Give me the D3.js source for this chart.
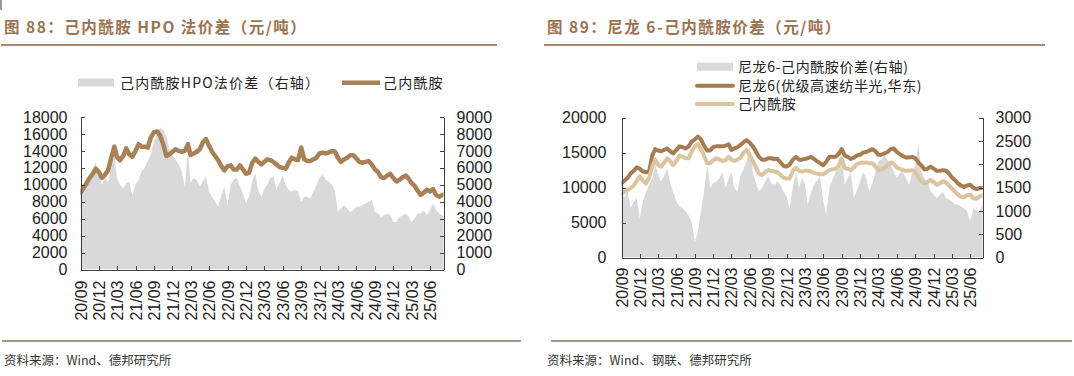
<!DOCTYPE html>
<html><head><meta charset="utf-8">
<script src="https://cdn.jsdelivr.net/npm/d3@7"></script>
<style>
html,body{margin:0;padding:0;background:#fff;}
svg{display:block;}
.ax text{font-family:"Liberation Sans Narrow","Liberation Sans",Arial,sans-serif;font-size:16px;fill:#222;}
.ax path,.ax line{stroke:#404040;stroke-width:1;shape-rendering:crispEdges;}
.lg{font-family:"Noto Sans CJK SC",sans-serif;font-size:14px;fill:#222;}
.tt{font-family:"Noto Sans CJK SC",sans-serif;font-size:15.5px;font-weight:bold;fill:#9c7352;letter-spacing:1.5px;}
.src{font-family:"Noto Sans CJK SC",sans-serif;font-size:12.5px;fill:#333;}
</style></head>
<body>
<svg id="c" width="1074" height="376"></svg>
<script>
// ---------- categories ----------
const startYear = 2020, startMonth = 9;           // semi-monthly observations from 2020-09
const xTickLabels = ["20/09","20/12","21/03","21/06","21/09","21/12","22/03","22/06","22/09","22/12",
  "23/03","23/06","23/09","23/12","24/03","24/06","24/09","24/12","25/03","25/06"];

// ---------- Fig 88 (left) ----------
// 己内酰胺 price (left axis, 元/吨, thousands)
const capLeft = [9.1,9.6,10.2,10.8,11.3,11.9,11.5,10.8,11.2,11.7,13.2,14.5,13.3,12.9,13.4,14.3,13.6,13.3,14.0,14.8,
  14.5,14.5,14.4,15.6,16.2,16.3,15.8,14.8,13.4,13.6,13.9,14.2,14.0,13.9,14.0,14.8,13.5,13.7,13.9,14.2,
  15.0,15.4,14.6,13.9,13.4,12.9,12.2,11.7,12.2,12.3,11.8,11.8,12.3,11.8,11.3,11.4,12.6,13.1,12.7,12.4,
  12.7,13.0,12.9,12.7,12.4,12.1,12.0,11.9,12.6,13.2,13.0,12.9,14.4,13.0,12.8,12.8,13.0,13.2,13.7,13.8,
  13.7,13.8,14.0,13.9,13.2,12.7,13.0,13.2,13.5,13.5,13.1,12.7,12.6,12.7,12.8,12.4,11.8,11.5,10.9,10.8,
  11.1,11.3,10.8,10.4,10.6,10.9,11.1,10.7,10.2,9.9,9.3,8.8,9.1,9.4,9.2,9.5,8.8,8.6,8.8,8.9];
// 己内酰胺HPO法价差 (right axis, thousands)
const hpoSpread = [4.6,5.0,5.3,5.6,5.9,6.3,5.6,5.0,5.4,5.2,6.0,6.7,5.4,5.0,4.8,5.1,5.2,4.4,5.0,5.3,
  5.8,6.0,6.4,6.8,7.6,8.0,8.4,8.2,7.9,7.1,6.7,6.5,6.2,5.8,4.9,7.1,5.1,5.4,5.3,4.9,
  5.2,5.5,4.6,4.3,4.0,3.7,4.4,4.9,3.8,5.0,5.3,5.4,4.9,4.5,3.9,4.3,5.2,5.7,4.6,4.3,
  4.7,5.0,5.4,5.5,4.7,5.1,5.5,5.0,4.7,4.6,4.7,4.6,4.0,4.3,4.3,4.2,4.6,5.0,5.4,5.6,
  5.3,5.2,5.0,4.6,3.4,3.6,3.8,3.6,3.4,3.5,3.7,3.7,3.8,3.9,4.0,4.1,3.4,3.3,3.1,3.2,
  3.3,3.2,2.8,2.8,3.1,3.2,3.3,3.1,2.8,3.0,3.3,3.3,3.5,3.2,3.5,3.9,3.5,3.3,3.2,3.0];

// ---------- Fig 89 (right) ----------
const nylon6 = [10.6,11.0,11.4,12.0,12.4,12.9,12.7,12.3,12.2,12.3,14.6,15.5,15.3,15.2,15.4,15.6,15.2,14.9,15.4,15.9,
  15.8,15.6,15.9,16.6,16.9,17.3,16.9,16.0,15.3,15.3,15.8,15.9,15.9,15.9,16.0,16.2,15.4,15.6,15.8,16.1,
  16.5,16.8,16.4,15.9,15.2,14.4,14.0,14.0,14.2,14.2,14.1,14.1,13.6,13.1,13.0,13.3,14.0,14.4,14.0,14.0,
  14.1,14.2,14.4,14.1,13.8,13.5,13.2,13.7,14.4,14.4,14.4,14.8,15.5,14.6,14.4,14.1,14.3,14.6,14.7,15.0,
  15.1,15.3,15.5,15.2,14.7,14.7,14.9,15.1,15.5,15.6,15.1,14.8,14.5,14.3,14.3,14.4,14.2,13.6,13.2,12.6,
  12.7,13.0,12.7,12.4,12.4,12.5,12.4,12.0,11.5,11.1,10.6,10.3,10.1,10.3,10.4,10.0,9.8,9.9,10.0,9.8];
const capRight = [9.1,9.4,9.65,9.9,10.3,11.0,11.6,11.0,10.6,11.4,13.0,14.0,13.3,13.0,13.5,14.2,13.8,13.2,13.8,14.6,
  14.4,14.2,14.2,15.2,15.9,16.2,15.5,14.6,13.5,13.5,13.9,14.2,14.0,13.8,13.9,14.4,14.0,13.8,14.0,14.3,
  15.0,15.4,14.6,13.8,12.9,12.0,11.8,12.2,12.5,12.4,12.3,12.2,11.8,11.4,11.3,11.3,12.4,12.8,12.4,12.3,
  12.4,12.4,12.3,12.1,12.0,11.9,11.9,12.2,12.5,12.6,12.7,13.1,14.2,12.8,12.7,12.5,12.9,13.4,13.5,13.6,
  13.6,13.5,13.5,13.0,12.5,12.6,12.8,13.2,13.6,13.4,12.9,12.7,12.5,12.4,12.4,12.5,12.2,11.5,10.9,10.6,
  10.8,11.1,10.8,10.4,10.6,10.9,10.7,10.3,9.9,9.4,9.0,8.7,8.6,8.9,9.0,8.5,8.4,8.7,8.9,8.7];
const nylonSpread = [1.35,1.30,1.41,1.06,1.20,1.27,0.84,1.20,1.41,1.55,1.70,1.99,1.80,1.63,1.75,1.92,1.60,1.40,1.20,1.10,
  1.06,0.99,0.90,0.77,0.34,0.55,1.00,1.41,1.99,1.49,1.60,1.63,1.70,1.84,1.49,1.70,1.84,1.50,1.41,1.77,
  1.90,2.06,2.40,1.84,1.60,1.41,1.50,1.63,1.74,1.60,1.56,1.63,1.55,1.41,1.30,1.06,1.50,1.84,1.49,1.70,
  1.60,1.13,1.40,1.56,1.65,1.74,1.20,0.91,1.49,1.65,1.84,1.90,2.20,1.56,1.70,1.84,1.27,1.45,1.63,1.84,
  1.70,1.41,1.60,1.84,2.06,2.10,2.20,2.10,1.99,1.85,1.70,1.80,1.84,1.70,1.56,1.80,1.99,2.45,1.84,1.70,
  1.63,1.41,1.35,1.27,1.35,1.41,1.27,1.25,1.20,1.15,1.13,1.10,1.05,1.00,0.77,1.06,1.00,0.99,1.13,1.05];

// ---------- build ----------
const dates = capLeft.map((_, i) => new Date(startYear, startMonth - 1 + Math.floor(i / 2), i % 2 ? 16 : 1));
const tickDates = xTickLabels.map(s => new Date(2000 + +s.slice(0, 2), +s.slice(3) - 1, 1));
const svg = d3.select("#c");
const C = { brown: "#a98157", nylon: "#a67c52", tan: "#dac59e", grey: "#d9d9d9" };

svg.append("rect").attr("x", 0).attr("y", 0).attr("width", 2).attr("height", 10).attr("fill", "#9a9a9a");

function frame(x0, x1, title, src, srcLineX0, srcLineX1) {
  svg.append("text").attr("class", "tt").attr("x", x0 + 4).attr("y", 33).text(title);
  svg.append("rect").attr("x", x0 + 1).attr("y", 44).attr("width", x1 - x0 - 1).attr("height", 2).attr("fill", "#a98a6e");
  svg.append("rect").attr("x", srcLineX0).attr("y", 340).attr("width", srcLineX1 - srcLineX0).attr("height", 2).attr("fill", "#a59684");
  svg.append("text").attr("class", "src").attr("x", x0 + 4).attr("y", 365).text(src);
}

function chart(o) {
  const g = svg.append("g");
  const x = d3.scaleTime().domain([new Date(2020, 8, 1), o.xEnd]).range([o.left, o.right]);
  const yL = d3.scaleLinear().domain([0, o.lMax]).range([o.bottom, o.top]);
  const yR = d3.scaleLinear().domain([0, o.rMax]).range([o.bottom, o.top]);
  const cid = "clip" + o.id;
  g.append("clipPath").attr("id", cid).append("rect")
    .attr("x", o.left).attr("y", o.top - 10).attr("width", o.right - o.left).attr("height", o.bottom - o.top + 10);
  const pg = g.append("g").attr("clip-path", `url(#${cid})`);
  pg.append("path").datum(o.area)
    .attr("fill", C.grey)
    .attr("d", d3.area().x((d, i) => x(dates[i])).y0(yR(0)).y1(d => yR(d * 1000)));
  o.lines.forEach(L => {
    pg.append("path").datum(L.values)
      .attr("fill", "none").attr("stroke", L.color).attr("stroke-width", L.w)
      .attr("stroke-linejoin", "round").attr("stroke-linecap", "round")
      .attr("d", d3.line().x((d, i) => x(dates[i])).y(d => yL(d * 1000)));
  });
  const ax = g.append("g").attr("class", "ax").attr("transform", `translate(0,${o.bottom})`)
    .call(d3.axisBottom(x).tickValues(tickDates).tickFormat((d, i) => xTickLabels[i]).tickSize(-4).tickSizeOuter(0));
  ax.selectAll("text").attr("x", -o.xlabGap).attr("y", 0).attr("dy", "0.35em")
    .attr("transform", "rotate(-90)").attr("text-anchor", "end");
  g.append("g").attr("class", "ax").attr("transform", `translate(${o.left},0)`)
    .call(d3.axisLeft(yL).tickValues(d3.range(0, o.lMax + 1, o.lStep)).tickFormat(d3.format("d")).tickSize(-4).tickSizeOuter(0).tickPadding(o.lPad));
  g.append("g").attr("class", "ax").attr("transform", `translate(${o.right},0)`)
    .call(d3.axisRight(yR).tickValues(d3.range(0, o.rMax + 1, o.rStep)).tickFormat(d3.format("d")).tickSize(-4).tickSizeOuter(0).tickPadding(o.rPad));
}

// left
frame(0, 497, "图 88：己内酰胺 HPO 法价差（元/吨）", "资料来源：Wind、德邦研究所", 2, 521);
chart({ id: 1, left: 80.5, right: 443.5, top: 117, bottom: 269.5, xEnd: new Date(2025, 7, 7),
  lMax: 18000, lStep: 2000, rMax: 9000, rStep: 1000, lPad: 13, rPad: 13, xlabGap: 11,
  area: hpoSpread, lines: [{ values: capLeft, color: C.brown, w: 4.5 }] });
// legend left
svg.append("rect").attr("x", 78).attr("y", 78.5).attr("width", 36).attr("height", 8).attr("fill", C.grey);
svg.append("text").attr("class", "lg").attr("x", 120).attr("y", 87.5).attr("letter-spacing", 1.2).text("己内酰胺HPO法价差（右轴）");
svg.append("line").attr("x1", 342).attr("x2", 380).attr("y1", 82.7).attr("y2", 82.7).attr("stroke", C.brown).attr("stroke-width", 4.5);
svg.append("text").attr("class", "lg").attr("x", 383).attr("y", 87.5).attr("letter-spacing", 1.2).text("己内酰胺");

// right
frame(543, 1045, "图 89：尼龙 6-己内酰胺价差（元/吨）", "资料来源：Wind、钢联、德邦研究所", 551, 1072);
chart({ id: 2, left: 621.5, right: 982.5, top: 117.7, bottom: 257.5, xEnd: new Date(2025, 7, 1),
  lMax: 20000, lStep: 5000, rMax: 3000, rStep: 500, lPad: 15, rPad: 13, xlabGap: 10,
  area: nylonSpread, lines: [{ values: nylon6, color: C.nylon, w: 4 }, { values: capRight, color: C.tan, w: 4 }] });
const lg2 = [
  { t: "尼龙6-己内酰胺价差(右轴)", y: 66.7, type: "rect", c: C.grey },
  { t: "尼龙6(优级高速纺半光,华东)", y: 85.7, type: "line", c: C.nylon },
  { t: "己内酰胺", y: 104, type: "line", c: C.tan }];
lg2.forEach(d => {
  if (d.type === "rect") svg.append("rect").attr("x", 697).attr("y", d.y - 4).attr("width", 36).attr("height", 8).attr("fill", d.c);
  else svg.append("line").attr("x1", 697).attr("x2", 733).attr("y1", d.y).attr("y2", d.y).attr("stroke", d.c).attr("stroke-width", 4).attr("stroke-linecap", "round");
  svg.append("text").attr("class", "lg").attr("x", 738).attr("y", d.y + 5).attr("letter-spacing", 0.6).text(d.t);
});
</script>
</body></html>
